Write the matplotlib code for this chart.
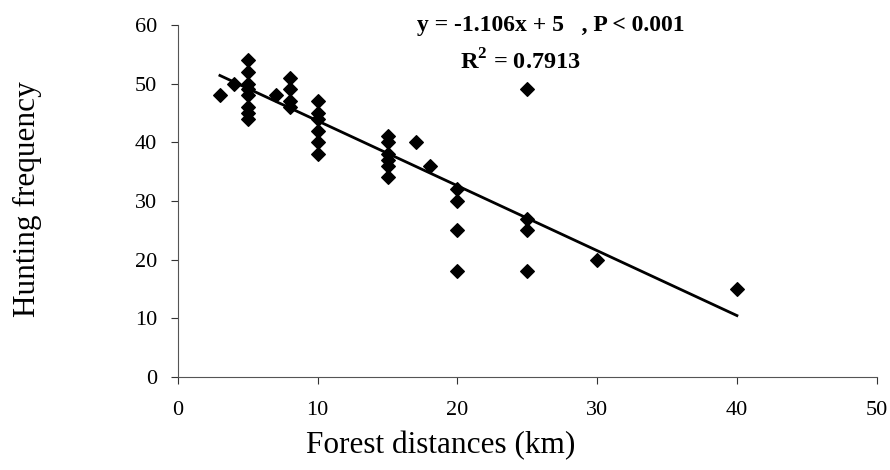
import matplotlib.pyplot as plt
import numpy as np

# forest distance (km) and hunting frequency
distance = [3, 4,
            5, 5, 5, 5, 5, 5, 5, 5,
            7,
            8, 8, 8, 8,
            10, 10, 10, 10, 10, 10,
            15, 15, 15, 15, 15, 15,
            17, 18,
            20, 20, 20, 20,
            25, 25, 25, 25,
            30, 40]
frequency = [48, 50,
             54, 52, 50, 49, 48, 46, 45, 44,
             48,
             51, 49, 47, 46,
             47, 45, 44, 42, 40, 38,
             41, 40, 38, 37, 36, 34,
             40, 36,
             32, 30, 25, 18,
             49, 27, 25, 18,
             20, 15]

slope = -1.106
intercept = 54.7
fit_x = [3, 40]

eq_text = "y = -1.106x + 5   , P < 0.001"
r2_text = "R$^\\mathbf{2}$ = 0.7913"

plt.rcParams['font.family'] = ['Liberation Serif', 'DejaVu Serif']
plt.rcParams['mathtext.fontset'] = 'custom'
plt.rcParams['mathtext.rm'] = 'Liberation Serif'
plt.rcParams['mathtext.bf'] = 'Liberation Serif:bold'

fig = plt.figure(figsize=(8.9, 4.7), dpi=100)
ax = fig.add_axes([0.2, 0.198, 0.785, 0.749])

ax.scatter(distance, frequency, marker='D', s=48, color='black', zorder=3)
fx = np.array(fit_x)
ax.plot(fx, slope * fx + intercept, color='black', lw=2)

ax.set_xlim(0, 50)
ax.set_ylim(0, 60)
ax.set_xticks(range(0, 51, 10))
ax.set_yticks(range(0, 61, 10))
ax.tick_params(direction='out', length=5, width=0.8, labelsize=16, colors='#333333',
               labelcolor='black')
ax.tick_params(axis='y', pad=10)
ax.tick_params(axis='x', pad=12)

for s in ['top', 'right']:
    ax.spines[s].set_visible(False)
for s in ['left', 'bottom']:
    ax.spines[s].set_color('#555555')
    ax.spines[s].set_linewidth(0.8)

# axis titles placed where the reference has them
fig.text(441 / 890, 1 - 446 / 470, "Forest distances (km)", fontsize=22.5,
         ha='center', va='center')
fig.text(27 / 890, 1 - 199 / 470, "Hunting frequency", fontsize=22.5,
         rotation=90, ha='center', va='center')

fig.text(417 / 890, 1 - 25 / 470, eq_text, fontsize=17, fontweight='bold',
         va='center', ha='left')
fig.text(460 / 890, 1 - 62 / 470, r2_text, fontsize=17.5, fontweight='bold',
         va='center', ha='left')

plt.savefig("out.png", dpi=100)
